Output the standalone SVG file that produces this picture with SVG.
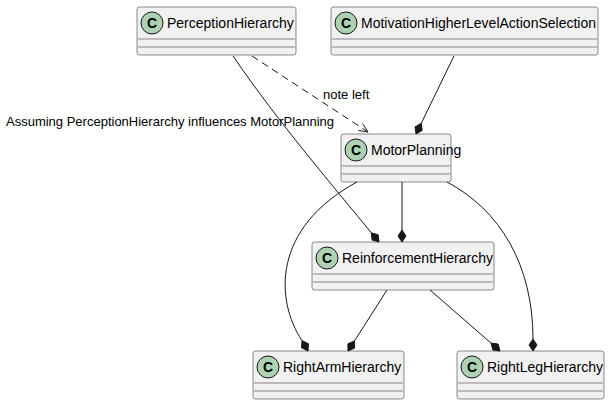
<svg xmlns="http://www.w3.org/2000/svg" width="610" height="405" viewBox="0 0 610 405">
<style>
.box{fill:#F1F1F1;stroke:#181818;stroke-width:0.5}
.sep{stroke:#181818;stroke-width:0.5}
.circ{fill:#ADD1B2;stroke:#181818;stroke-width:1}
.c{font-family:"Liberation Sans",Arial,sans-serif;font-size:14px;font-weight:bold;fill:#000;text-anchor:middle}
.name{font-family:"Liberation Sans",Arial,sans-serif;font-size:14px;fill:#000}
.lbl{font-family:"Liberation Sans",Arial,sans-serif;font-size:13px;fill:#000}
.edge{fill:none;stroke:#181818;stroke-width:1}
.dia{fill:#181818;stroke:#181818;stroke-width:1}
</style>
<rect width="610" height="405" fill="#FFFFFF"/>

<g id="PerceptionHierarchy">
<rect class="box" x="137" y="7" width="159" height="48" rx="2.5"/>
<circle class="circ" cx="152" cy="23" r="11"/>
<text class="c" x="152" y="28">C</text>
<text class="name" x="167" y="28">PerceptionHierarchy</text>
<line class="sep" x1="138" y1="39" x2="295" y2="39"/>
<line class="sep" x1="138" y1="47" x2="295" y2="47"/>
</g>

<g id="MotivationHigherLevelActionSelection">
<rect class="box" x="331" y="7" width="267" height="48" rx="2.5"/>
<circle class="circ" cx="346" cy="23" r="11"/>
<text class="c" x="346" y="28">C</text>
<text class="name" x="361" y="28">MotivationHigherLevelActionSelection</text>
<line class="sep" x1="332" y1="39" x2="597" y2="39"/>
<line class="sep" x1="332" y1="47" x2="597" y2="47"/>
</g>

<g id="MotorPlanning">
<rect class="box" x="341" y="134" width="110" height="48" rx="2.5"/>
<circle class="circ" cx="356" cy="150" r="11"/>
<text class="c" x="356" y="155">C</text>
<text class="name" x="371" y="155">MotorPlanning</text>
<line class="sep" x1="342" y1="166" x2="450" y2="166"/>
<line class="sep" x1="342" y1="174" x2="450" y2="174"/>
</g>

<g id="ReinforcementHierarchy">
<rect class="box" x="312" y="242" width="182" height="48" rx="2.5"/>
<circle class="circ" cx="327" cy="258" r="11"/>
<text class="c" x="327" y="263">C</text>
<text class="name" x="342" y="263">ReinforcementHierarchy</text>
<line class="sep" x1="313" y1="274" x2="493" y2="274"/>
<line class="sep" x1="313" y1="282" x2="493" y2="282"/>
</g>

<g id="RightArmHierarchy">
<rect class="box" x="253" y="351" width="151" height="48" rx="2.5"/>
<circle class="circ" cx="268" cy="367" r="11"/>
<text class="c" x="268" y="372">C</text>
<text class="name" x="283" y="372">RightArmHierarchy</text>
<line class="sep" x1="254" y1="383" x2="403" y2="383"/>
<line class="sep" x1="254" y1="391" x2="403" y2="391"/>
</g>

<g id="RightLegHierarchy">
<rect class="box" x="457" y="351" width="147" height="48" rx="2.5"/>
<circle class="circ" cx="472" cy="367" r="11"/>
<text class="c" x="472" y="372">C</text>
<text class="name" x="487" y="372">RightLegHierarchy</text>
<line class="sep" x1="458" y1="383" x2="603" y2="383"/>
<line class="sep" x1="458" y1="391" x2="603" y2="391"/>
</g>

<g id="connectors">
<!-- Perception -> Reinforcement -->
<path class="edge" d="M233,56 C278,122 338,192 371.3,232.8"/>
<polygon class="dia" points="379,242 372.1,240 371.3,232.8 378.2,234.8"/>
<!-- dashed Perception -> MotorPlanning -->
<path class="edge" d="M252,56 L368,132" stroke-dasharray="7,5"/>
<polyline class="edge" points="358.3,130.4 368,132 362.7,123.7"/>
<text class="lbl" x="323" y="99">note left</text>
<text class="lbl" x="6" y="126">Assuming PerceptionHierarchy influences MotorPlanning</text>
<!-- Motivation -> MotorPlanning -->
<path class="edge" d="M454,56 L421.3,123.2"/>
<polygon class="dia" points="416,134 415,126.9 421.3,123.2 422.2,130.4"/>
<!-- MotorPlanning -> Reinforcement -->
<path class="edge" d="M402,182 L402,230"/>
<polygon class="dia" points="402,242 398,236 402,230 406,236"/>
<!-- MotorPlanning -> RightArm -->
<path class="edge" d="M357,182 C272,228 275,300 302,340.6"/>
<polygon class="dia" points="308,351 301.5,347.8 302,340.6 308.5,343.8"/>
<!-- MotorPlanning -> RightLeg -->
<path class="edge" d="M447,182 C500,210 533,265 533,339"/>
<polygon class="dia" points="533,351 529,345 533,339 537,345"/>
<!-- Reinforcement -> RightArm -->
<path class="edge" d="M387,290 L354.5,340.9"/>
<polygon class="dia" points="348,351 347.9,343.8 354.5,340.9 354.6,348.1"/>
<!-- Reinforcement -> RightLeg -->
<path class="edge" d="M430,290 L491,343.1"/>
<polygon class="dia" points="500,351 492.9,350.1 491,343.1 498.1,344"/>
</g>
</svg>
